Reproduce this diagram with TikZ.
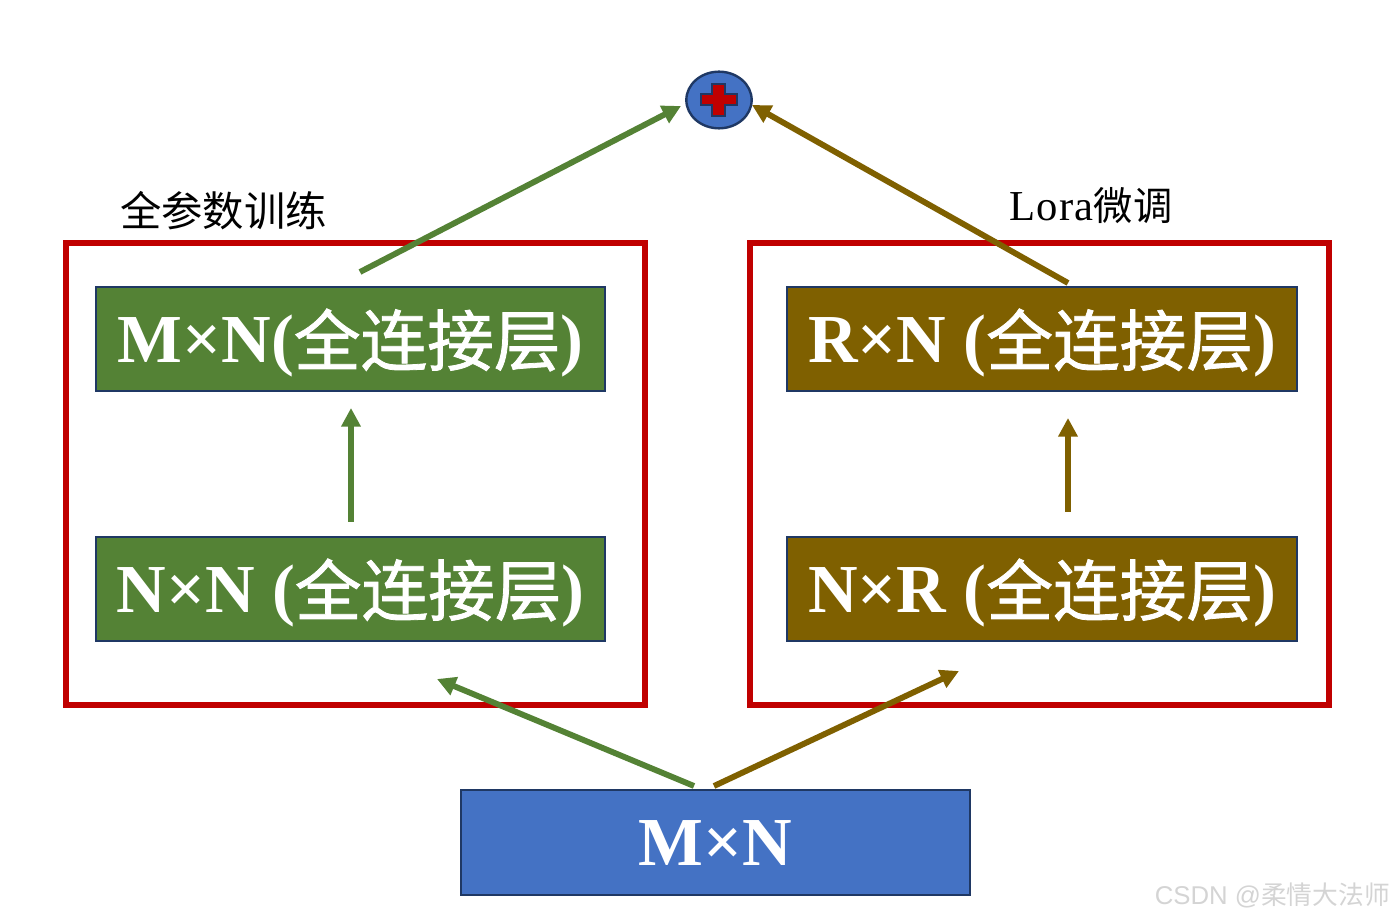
\documentclass[tikz,border=0pt]{standalone}
\usepackage{fontspec}
\setmainfont{Liberation Serif}
\newfontfamily\cjk{Noto Sans CJK SC}
\newfontfamily\cjkb[FakeBold=1.2]{Noto Sans CJK SC}
\usetikzlibrary{arrows.meta,shapes.geometric}
\definecolor{grn}{HTML}{548235}
\definecolor{brn}{HTML}{7F6000}
\definecolor{blu}{HTML}{4472C4}
\definecolor{nvy}{HTML}{1F3864}
\definecolor{rd}{HTML}{C00000}
\tikzset{
  layerbox/.style={draw=nvy,line width=1.5pt,minimum height=77.5pt,inner sep=0pt,text=white,font=\fontsize{51.5}{52}\bfseries},
  greenbox/.style={layerbox,fill=grn,minimum width=381.5pt},
  brownbox/.style={layerbox,fill=brn,minimum width=382.5pt},
  frame/.style={draw=rd,line width=4.3pt,inner sep=0pt},
  conn/.style={line width=4.4pt,-{Triangle[length=14pt,width=14pt]}},
  caption/.style={inner sep=0pt,font=\fontsize{30}{30}\selectfont}
}
\newcommand{\cj}[1]{\raisebox{-2.5pt}[0pt][0pt]{\cjkb\mdseries\fontsize{50}{50}\selectfont #1}}
\newcommand{\lbl}[1]{\raisebox{-17.3pt}[0pt][0pt]{#1}}
\begin{document}
\begin{tikzpicture}[x=0.75pt,y=-0.75pt]
\useasboundingbox (0,0) rectangle (1393,919);
\node[frame,minimum width=433.8pt,minimum height=346.8pt] (fl) at (355.5,474) {};
\node[frame,minimum width=433.8pt,minimum height=346.8pt] (fr) at (1039.5,474) {};
\node[greenbox] (a) at (350.5,339) {\lbl{M×N(\cj{全连接层})}};
\node[greenbox] (b) at (350.5,589) {\lbl{N×N (\cj{全连接层})}};
\node[brownbox] (c) at (1042,339) {\lbl{R×N (\cj{全连接层})}};
\node[brownbox] (d) at (1042,589) {\lbl{N×R (\cj{全连接层})}};
\node[layerbox,fill=blu,minimum width=381.5pt,minimum height=78.5pt] (m) at (715.5,842.5) {\lbl{M×N}};
\node[draw=nvy,line width=1.8pt,fill=blu,ellipse,minimum width=49pt,minimum height=42.5pt,inner sep=0pt] (p) at (719,100) {};
\fill[rd,draw=nvy,line width=1.5pt] (712,84)--(725,84)--(725,94)--(737,94)--(737,105)--(725,105)--(725,116)--(712,116)--(712,105)--(701,105)--(701,94)--(712,94)--cycle;
\node[caption,anchor=west] (t1) at (120,211) {\cjk\fontsize{31}{31}\selectfont 全参数训练};
\node[caption,anchor=west] (t2) at (1009,206) {\fontsize{32}{32}\selectfont L\kern1pt o\kern1pt r\kern1pt a{\cjk\fontsize{29.5}{29.5}\selectfont 微调}};
\node[anchor=east,inner sep=0pt,text=black!17,font=\fontsize{19.3}{19.3}\selectfont] (w) at (1390,895) {\fontspec{Liberation Sans}CSDN @{\cjk\fontsize{19.3}{19.3}\selectfont 柔情大法师}};
\coordinate (a1) at (360,272); \coordinate (a2) at (681,106);
\coordinate (c1) at (1068,283); \coordinate (c2) at (752,105);
\coordinate (b1) at (351,522); \coordinate (b2) at (351,408);
\coordinate (d1) at (1068,512); \coordinate (d2) at (1068,418);
\coordinate (m1) at (694,786); \coordinate (m2) at (437,679);
\coordinate (m3) at (714,786); \coordinate (m4) at (959,671);
\draw[conn,grn] (a1)--(a2);
\draw[conn,brn] (c1)--(c2);
\draw[conn,grn] (b1)--(b2);
\draw[conn,brn] (d1)--(d2);
\draw[conn,grn] (m1)--(m2);
\draw[conn,brn] (m3)--(m4);
\end{tikzpicture}
\end{document}
